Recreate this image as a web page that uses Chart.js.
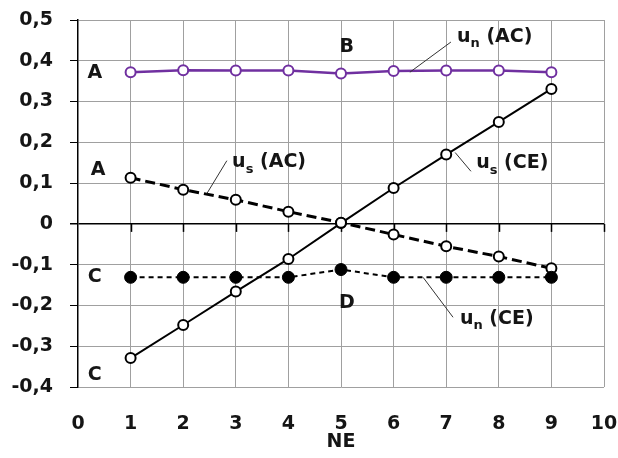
<!DOCTYPE html>
<html>
<head>
<meta charset="utf-8">
<script src="https://cdn.jsdelivr.net/npm/chart.js@4"></script>
<style>
html,body{margin:0;padding:0;background:#fff;}
#wrap{width:618px;height:458px;}
</style>
</head>
<body>
<div id="wrap"><canvas id="c" width="618" height="458"></canvas></div>
<script>
// ---- data ----
const xValues = [1, 2, 3, 4, 5, 6, 7, 8, 9];
const unAC = [0.372, 0.377, 0.376, 0.376, 0.369, 0.375, 0.376, 0.376, 0.372];
const usCE = [-0.329, -0.248, -0.166, -0.086, 0.002, 0.088, 0.170, 0.250, 0.331];
const usAC = [0.113, 0.084, 0.059, 0.030, 0.003, -0.026, -0.055, -0.080, -0.109];
const unCE = [-0.131, -0.131, -0.131, -0.131, -0.112, -0.131, -0.131, -0.131, -0.131];

const xTickLabels = ['0','1','2','3','4','5','6','7','8','9','10'];
const yTickLabels = ['-0,4','-0,3','-0,2','-0,1','0','0,1','0,2','0,3','0,4','0,5'];
const xTitle = 'NE';

// point letters (data coordinates)
const letterText = ['A', 'A', 'B', 'C', 'C', 'D'];
const letterX = [0.32, 0.38, 5.11, 0.32, 0.32, 5.11];
const letterY = [0.369, 0.133, 0.433, -0.131, -0.37, -0.193];

// series labels: main letter, subscript, rest; anchor (left, middle) and leader line
const seriesLabelMain = ['u', 'u', 'u', 'u'];
const seriesLabelSub = ['n', 's', 's', 'n'];
const seriesLabelRest = [' (AC)', ' (AC)', ' (CE)', ' (CE)'];
const seriesLabelX = [7.205, 2.93, 7.57, 7.26];
const seriesLabelY = [0.459, 0.151, 0.148, -0.233];
const leaderX1 = [6.31, 2.45, 7.17, 6.56];
const leaderY1 = [0.372, 0.0744, 0.175, -0.131];
const leaderX2 = [7.09, 2.83, 7.47, 7.13];
const leaderY2 = [0.446, 0.155, 0.129, -0.229];

const FONT = 'DejaVu Sans';
const pts = (arr) => xValues.map((x, i) => ({x: x, y: arr[i]}));

const annot = {
  id: 'annot',
  beforeDatasetsDraw(chart) {
    const {ctx, scales: {x, y}} = chart;
    const y0 = y.getPixelForValue(0);
    ctx.save();
    ctx.strokeStyle = '#000';
    ctx.lineWidth = 1.5;
    for (let v = 1; v <= 10; v++) {
      const px = Math.round(x.getPixelForValue(v)) + 0.5;
      ctx.beginPath();
      ctx.moveTo(px, y0);
      ctx.lineTo(px, y0 + 8);
      ctx.stroke();
    }
    ctx.restore();
  },
  afterDatasetsDraw(chart) {
    const {ctx, scales: {x, y}} = chart;
    ctx.save();
    // leader lines
    ctx.strokeStyle = '#333';
    ctx.lineWidth = 1;
    for (let i = 0; i < leaderX1.length; i++) {
      ctx.beginPath();
      ctx.moveTo(x.getPixelForValue(leaderX1[i]), y.getPixelForValue(leaderY1[i]));
      ctx.lineTo(x.getPixelForValue(leaderX2[i]), y.getPixelForValue(leaderY2[i]));
      ctx.stroke();
    }
    ctx.fillStyle = '#151515';
    ctx.textBaseline = 'middle';
    // letters
    ctx.font = 'bold 19px "' + FONT + '"';
    ctx.textAlign = 'center';
    for (let i = 0; i < letterText.length; i++) {
      ctx.fillText(letterText[i], x.getPixelForValue(letterX[i]), y.getPixelForValue(letterY[i]));
    }
    // series labels
    ctx.textAlign = 'left';
    for (let i = 0; i < seriesLabelMain.length; i++) {
      let px = x.getPixelForValue(seriesLabelX[i]);
      const py = y.getPixelForValue(seriesLabelY[i]);
      ctx.font = 'bold 19px "' + FONT + '"';
      ctx.fillText(seriesLabelMain[i], px, py);
      px += ctx.measureText(seriesLabelMain[i]).width;
      ctx.font = 'bold 13px "' + FONT + '"';
      ctx.fillText(seriesLabelSub[i], px, py + 7);
      px += ctx.measureText(seriesLabelSub[i]).width;
      ctx.font = 'bold 19px "' + FONT + '"';
      ctx.fillText(seriesLabelRest[i], px, py);
    }
    ctx.restore();
  }
};

const bg = {
  id: 'bg',
  beforeDraw(chart) {
    const ctx = chart.ctx;
    ctx.save();
    ctx.fillStyle = '#fff';
    ctx.fillRect(0, 0, chart.width, chart.height);
    ctx.restore();
  }
};

new Chart(document.getElementById('c'), {
  type: 'line',
  data: {
    datasets: [
      {
        label: 'un (CE)', data: pts(unCE), order: 0,
        borderColor: '#000', borderWidth: 2, borderDash: [5, 4],
        pointRadius: 6, pointBackgroundColor: '#000', pointBorderColor: '#000', pointBorderWidth: 1
      },
      {
        label: 'us (AC)', data: pts(usAC), order: 1,
        borderColor: '#000', borderWidth: 3, borderDash: [10, 5],
        pointRadius: 5, pointBackgroundColor: '#fff', pointBorderColor: '#000', pointBorderWidth: 2
      },
      {
        label: 'us (CE)', data: pts(usCE), order: 2,
        borderColor: '#000', borderWidth: 2,
        pointRadius: 5, pointBackgroundColor: '#fff', pointBorderColor: '#000', pointBorderWidth: 2
      },
      {
        label: 'un (AC)', data: pts(unAC), order: 3,
        borderColor: '#7030A0', borderWidth: 2.5,
        pointRadius: 5, pointBackgroundColor: '#fff', pointBorderColor: '#7030A0', pointBorderWidth: 2
      }
    ]
  },
  options: {
    responsive: false,
    animation: false,
    devicePixelRatio: 1,
    layout: {padding: {top: 20, right: 14, left: 0, bottom: 0}},
    plugins: {legend: {display: false}, tooltip: {enabled: false}},
    elements: {line: {tension: 0}},
    scales: {
      x: {
        type: 'linear', min: 0, max: 10,
        afterFit: (s) => { s.height = 71; s.paddingLeft = 0; s.paddingRight = 0; },
        afterBuildTicks: (s) => { s.ticks = xTickLabels.map((t, i) => ({value: i})); },
        ticks: {
          stepSize: 1, padding: 26, color: '#151515',
          font: {family: FONT, size: 19, weight: 'bold'},
          callback: (v, i) => xTickLabels[i]
        },
        grid: {color: (c) => c.tick && c.tick.value === 0 ? 'rgba(0,0,0,0)' : '#a0a0a0', lineWidth: 1, drawTicks: false},
        border: {display: false},
        title: {display: true, text: xTitle, color: '#151515',
          font: {family: FONT, size: 19, weight: 'bold'}, padding: {top: 0, bottom: 5}}
      },
      y: {
        type: 'linear', min: -0.4, max: 0.5,
        afterFit: (s) => { s.width = 78; s.paddingTop = 0; s.paddingBottom = 0; },
        afterBuildTicks: (s) => { s.ticks = yTickLabels.map((t, i) => ({value: Math.round((i - 4)) / 10})); },
        ticks: {
          stepSize: 0.1, padding: 17, color: '#151515',
          font: {family: FONT, size: 19, weight: 'bold'},
          callback: (v, i) => yTickLabels[i]
        },
        grid: {
          color: (c) => c.tick && Math.abs(c.tick.value) < 1e-9 ? '#000' : '#a0a0a0',
          lineWidth: (c) => c.tick && Math.abs(c.tick.value) < 1e-9 ? 1.5 : 1,
          tickColor: '#000', tickLength: 8, drawTicks: true
        },
        border: {display: true, color: '#000', width: 1.5}
      }
    }
  },
  plugins: [bg, annot]
});
</script>
</body>
</html>
